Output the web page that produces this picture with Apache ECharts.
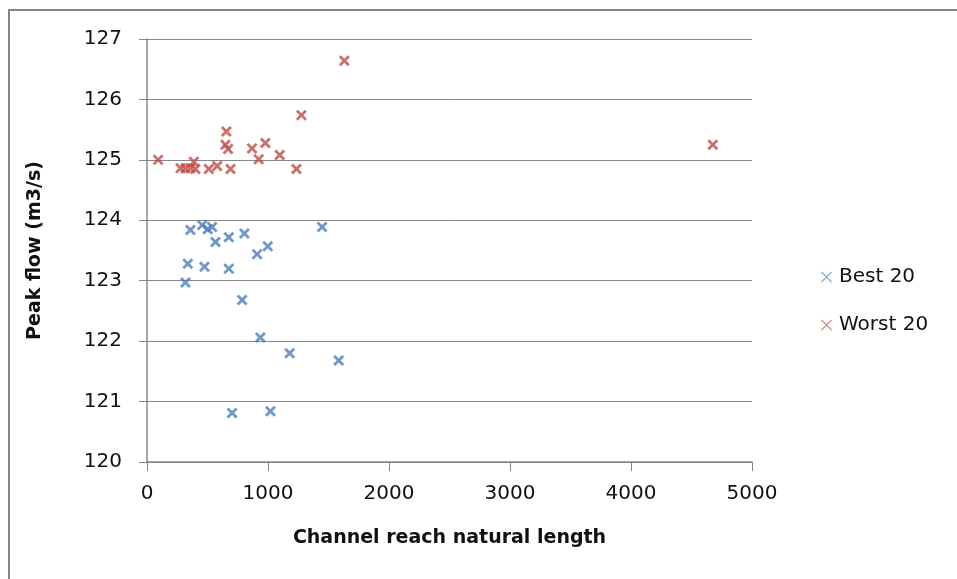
<!DOCTYPE html>
<html>
<head>
<meta charset="utf-8">
<script src="https://cdn.jsdelivr.net/npm/echarts@6/dist/echarts.min.js"></script>
<style>
  html, body { margin: 0; padding: 0; background: #fff; }
  #main { width: 957px; height: 579px; }
</style>
</head>
<body>
<div id="main"></div>
<script>
// channel reach natural length (x) and peak flow in m3/s (y)
const bestX = [359, 456, 502, 538, 566, 676, 805, 910, 998, 1447, 337, 475, 676, 318, 786, 937, 1179, 1584, 703, 1020]
const bestY = [123.84, 123.92, 123.85, 123.89, 123.64, 123.72, 123.78, 123.44, 123.57, 123.89, 123.28, 123.23, 123.20, 122.97, 122.68, 122.06, 121.80, 121.68, 120.81, 120.84]

const worstX = [92, 277, 318, 359, 387, 400, 511, 580, 690, 656, 648, 670, 868, 923, 978, 1097, 1235, 1276, 1631, 4676]
const worstY = [125.00, 124.86, 124.86, 124.86, 124.97, 124.85, 124.85, 124.90, 124.85, 125.47, 125.25, 125.18, 125.19, 125.01, 125.28, 125.08, 124.85, 125.74, 126.64, 125.25]

const seriesNames = ['Best 20', 'Worst 20']
const seriesColors = ['#4a7ebb', '#be4b48']

const xMin = 0, xMax = 5000, xStep = 1000
const yMin = 120, yMax = 127, yStep = 1

const pairs = (xs, ys) => xs.map((x, i) => [x, ys[i]])

// filled cross, used as the scatter marker
const crossBold = 'path://M0,1.8 L1.8,0 L5,3.2 L8.2,0 L10,1.8 L6.8,5 L10,8.2 L8.2,10 L5,6.8 L1.8,10 L0,8.2 L3.2,5 Z'
// thin cross for the legend
const crossThin = 'path://M0,0.6 L0.6,0 L5,4.4 L9.4,0 L10,0.6 L5.6,5 L10,9.4 L9.4,10 L5,5.6 L0.6,10 L0,9.4 L4.4,5 Z'

const axisGray = '#868686'
const font = 'DejaVu Sans'

const chart = echarts.init(document.getElementById('main'))

const option = {
  animation: false,
  backgroundColor: '#fff',
  graphic: [
    {
      type: 'rect',
      shape: { x: 9, y: 10, width: 1000, height: 700 },
      style: { fill: 'none', stroke: axisGray, lineWidth: 2 },
      silent: true
    }
  ],
  grid: {
    left: 147,
    top: 39,
    right: 205,
    bottom: 117
  },
  legend: {
    orient: 'vertical',
    left: 816,
    top: 260,
    itemWidth: 11,
    itemHeight: 13,
    itemGap: 24,
    textStyle: { fontFamily: font, fontSize: 20, color: '#111', lineHeight: 24, padding: [0, 0, 0, 2] },
    data: [
      { name: seriesNames[0], icon: crossThin },
      { name: seriesNames[1], icon: crossThin }
    ]
  },
  xAxis: {
    type: 'value',
    min: xMin,
    max: xMax,
    interval: xStep,
    name: 'Channel reach natural length',
    nameLocation: 'middle',
    nameGap: 67,
    nameTextStyle: { fontFamily: font, fontSize: 19, fontWeight: 'bold', color: '#111' },
    axisLine: { show: true, lineStyle: { color: axisGray, width: 1.5 } },
    axisTick: { show: true, length: 9, lineStyle: { color: axisGray } },
    axisLabel: { fontFamily: font, fontSize: 20, color: '#111', margin: 22, formatter: v => String(v) },
    splitLine: { show: false }
  },
  yAxis: {
    type: 'value',
    min: yMin,
    max: yMax,
    interval: yStep,
    name: 'Peak flow (m3/s)',
    nameLocation: 'middle',
    nameGap: 102,
    nameTextStyle: { fontFamily: font, fontSize: 19, fontWeight: 'bold', color: '#111' },
    axisLine: { show: true, lineStyle: { color: axisGray, width: 1.5 } },
    axisTick: { show: true, length: 8, lineStyle: { color: axisGray } },
    axisLabel: { fontFamily: font, fontSize: 20, color: '#111', margin: 25 },
    splitLine: { show: true, lineStyle: { color: axisGray, width: 1 } }
  },
  series: [
    {
      name: seriesNames[0],
      type: 'scatter',
      symbol: crossBold,
      symbolSize: 11,
      itemStyle: { color: seriesColors[0] },
      data: pairs(bestX, bestY)
    },
    {
      name: seriesNames[1],
      type: 'scatter',
      symbol: crossBold,
      symbolSize: 11,
      itemStyle: { color: seriesColors[1] },
      data: pairs(worstX, worstY)
    }
  ]
}

chart.setOption(option)
</script>
</body>
</html>
